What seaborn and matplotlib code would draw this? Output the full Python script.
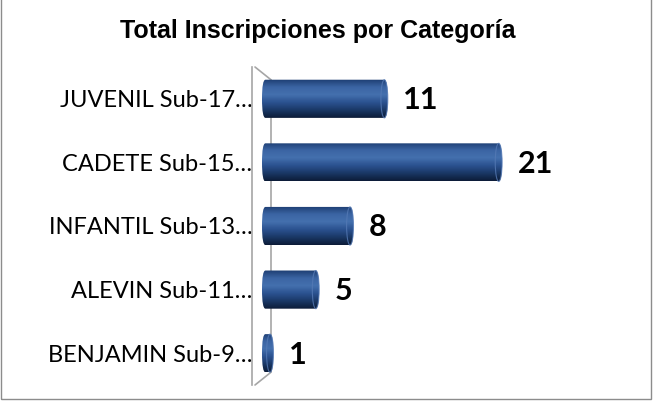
import numpy as np
import pandas as pd
import seaborn as sns
import matplotlib.pyplot as plt
from matplotlib.patches import FancyBboxPatch, Ellipse, Rectangle
from matplotlib.colors import LinearSegmentedColormap

# datos del gráfico
categorias = ["JUVENIL Sub-17…", "CADETE Sub-15…", "INFANTIL Sub-13…",
              "ALEVIN Sub-11…", "BENJAMIN Sub-9…"]
totales = [11, 21, 8, 5, 1]
titulo = "Total Inscripciones por Categoría"

df = pd.DataFrame({"categoria": categorias, "total": totales})

sns.set_style("white")
plt.rcParams['font.family'] = ['Lato', 'DejaVu Sans']

fig = plt.figure(figsize=(6.53, 4.05), dpi=100)
ax = fig.add_axes([262 / 653, (405 - 385) / 405, 343 / 653, (385 - 67) / 405])

sns.barplot(data=df, x="total", y="categoria", orient="h", ax=ax,
            width=0.6, color="#1f3f73")
ax.set_xlim(0, 30)
ax.set_ylim(len(categorias) - 0.5, -0.5)

# degradado tipo cilindro
cmap = LinearSegmentedColormap.from_list(
    "cil", ["#1d3e72", "#3b64a3", "#4470ae", "#2b5290", "#1a3866", "#0c1c38"])
grad = np.linspace(0, 1, 64).reshape(-1, 1)
r = 0.3
for p, v in zip(ax.patches, totales):
    x0, y0 = p.get_x(), p.get_y()
    w, h = p.get_width(), p.get_height()
    p.set_visible(False)
    shape = FancyBboxPatch((x0, y0), w, h,
                           boxstyle=f"round,pad=0,rounding_size={r}",
                           facecolor="none", edgecolor="none")
    ax.add_patch(shape)
    im = ax.imshow(grad, extent=[x0, x0 + w, y0 + h, y0], origin="upper",
                   cmap=cmap, aspect="auto", interpolation="bilinear", zorder=2)
    im.set_clip_path(shape)
    cap = Ellipse((x0 + w - r, y0 + h / 2), 2 * r, h, facecolor="none",
                  edgecolor="#557ab5", linewidth=0.8, alpha=0.8, zorder=3)
    ax.add_patch(cap)
    ax.annotate(str(v), (x0 + w, y0 + h / 2), xytext=(11, -1),
                textcoords="offset points", va="center", ha="left",
                fontsize=22, fontweight="bold", color="black")

# ejes al estilo Excel 3D
for s in ["top", "right", "bottom"]:
    ax.spines[s].set_visible(False)
ax.spines["left"].set_color("#a6a6a6")
ax.spines["left"].set_linewidth(1.2)
ax.spines["left"].set_position(("outward", 7))
ax.set_xticks([])
ax.set_xlabel("")
ax.set_ylabel("")
ax.tick_params(axis="y", which="major", length=0, pad=0, labelsize=17,
               labelcolor="black")
ax.set_yticks(np.arange(len(categorias) + 1) - 0.5, minor=True)
ax.tick_params(axis="y", which="minor", length=5, width=1.2, color="#a6a6a6",
               direction="out")

# pared del fondo
tr = ax.transAxes
ax.plot([0.026, 0.026], [0.04, 0.96], transform=tr, color="#a6a6a6", lw=1.2,
        zorder=1, clip_on=False)
ax.plot([-0.0204, 0.026], [1.0, 0.96], transform=tr, color="#a6a6a6", lw=1.2,
        zorder=1, clip_on=False)
ax.plot([-0.0204, 0.026], [0.0, 0.04], transform=tr, color="#a6a6a6", lw=1.2,
        zorder=1, clip_on=False)

fig.text(318 / 653, 1 - 31 / 405, titulo, ha="center", va="center",
         fontsize=18, fontweight="bold", color="black",
         family=["Liberation Sans", "DejaVu Sans"])

fig.patches.append(Rectangle((0.002, 0.014), 0.995, 1.0, transform=fig.transFigure,
                             fill=False, edgecolor="#8c8c8c", linewidth=1))

fig.savefig("out.png", dpi=100)
